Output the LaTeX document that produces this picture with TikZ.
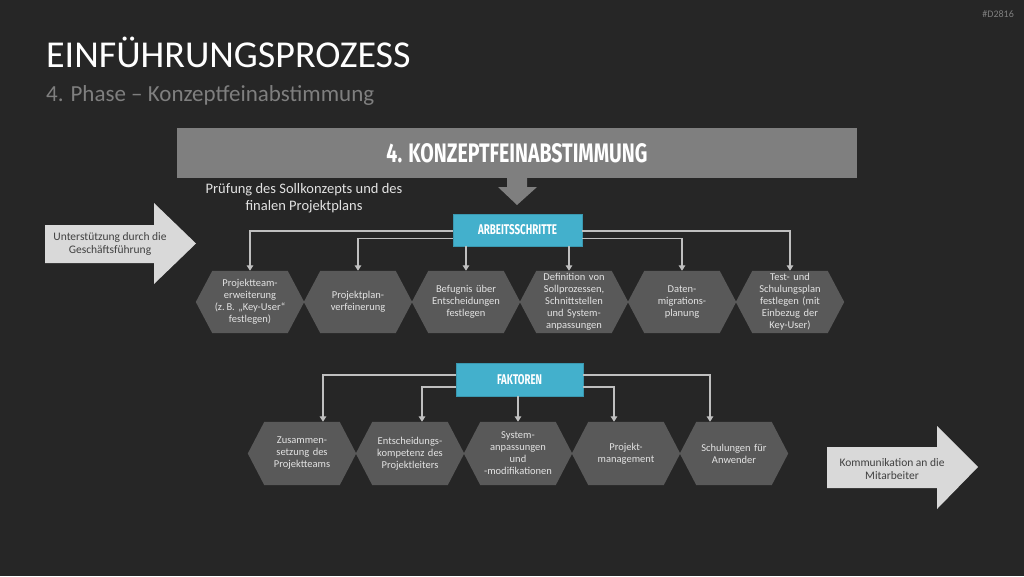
\documentclass[tikz,border=0pt]{standalone}
\usepackage{fontspec}
\setmainfont{Carlito}
\newfontfamily\headfont{Fira Sans}
\usepackage{graphicx}
\usetikzlibrary{arrows.meta,calc}
\pgfdeclarelayer{background}
\pgfsetlayers{background,main}
\definecolor{bgcol}{HTML}{262626}
\definecolor{bannergray}{HTML}{7F7F7F}
\definecolor{hexfill}{HTML}{595959}
\definecolor{hextext}{HTML}{E3E3E3}
\definecolor{teal}{HTML}{43B0CC}
\definecolor{tealdark}{HTML}{3A98B0}
\definecolor{conncol}{HTML}{BFBFBF}
\definecolor{arrowfill}{HTML}{D9D9D9}
\definecolor{arrowtext}{HTML}{404040}
\definecolor{subgray}{HTML}{7F7F7F}
\tikzset{
  hexnode/.style={minimum width=108pt, minimum height=62pt, inner sep=0pt,
    text width=86pt, align=center, font=\fontsize{10.5}{12}\selectfont, text=hextext},
  tealbox/.style={fill=teal, draw=tealdark, line width=0.6pt, inner sep=0pt},
  conn/.style={draw=conncol, line width=1.5pt, -{Triangle[width=6.5pt,length=5.5pt]}},
  bigarrow/.style={fill=arrowfill},
  arrowlabel/.style={align=center, text=arrowtext, font=\fontsize{11.5}{13}\selectfont},
}
\newcommand{\hexpath}[1]{%
  \fill[hexfill] (#1.west) -- ([xshift=16.5pt]#1.north west) -- ([xshift=-16.5pt]#1.north east)
    -- (#1.east) -- ([xshift=-16.5pt]#1.south east) -- ([xshift=16.5pt]#1.south west) -- cycle;}
\begin{document}
\begin{tikzpicture}[x=1pt,y=-1pt]
\begin{pgfonlayer}{background}
\fill[bgcol] (0,0) rectangle (1024,576);
\end{pgfonlayer}
\useasboundingbox (0,0) rectangle (1024,576);

% header
\node[anchor=base west, inner sep=0pt, text=white, font=\fontsize{38}{44}\selectfont] (title) at (46,67) {EINFÜHRUNGSPROZESS};
\node[anchor=base west, inner sep=0pt, text=subgray, font=\fontsize{23}{28}\selectfont] (subtitle) at (46,101) {4. Phase – Konzeptfeinabstimmung};
\node[anchor=east, inner sep=0pt, text=subgray, font=\fontsize{10}{12}\selectfont] (code) at (1014,14) {\#D2816};

% banner
\node[fill=bannergray, minimum width=680pt, minimum height=50pt, inner sep=0pt, text=white] (banner) at (517,153)
  {\resizebox{261pt}{19pt}{\headfont\bfseries 4. KONZEPTFEINABSTIMMUNG}};
\fill[bannergray] (507,177) -- (507,187) -- (498,187) -- (517,205) -- (537,187) -- (527,187) -- (527,177) -- cycle;

\node[align=center, text=hextext, font=\fontsize{14.5}{17}\selectfont] (pruef) at (304,198)
  {Prüfung des Sollkonzepts und des\\finalen Projektplans};

% big side arrows
\fill[bigarrow] (45,225) -- (154,225) -- (154,203) -- (196,243.5) -- (154,284) -- (154,263) -- (45,263) -- cycle;
\node[arrowlabel] (support) at (110,244) {Unterstützung durch die\\Geschäftsführung};
\fill[bigarrow] (827,447) -- (937,447) -- (937,426) -- (978,467) -- (937,509) -- (937,488) -- (827,488) -- cycle;
\node[arrowlabel] (komm) at (892,469) {Kommunikation an die\\Mitarbeiter};

% Arbeitsschritte
\node[tealbox, minimum width=129pt, minimum height=32pt] (arb) at (517.5,230)
  {\color{white}\resizebox{79pt}{10pt}{\headfont\bfseries ARBEITSSCHRITTE}};

\node[hexnode] (u1) at (250,302) {Projektteam-\\erweiterung\\(z.\,B. „Key-User“\\festlegen)};
\node[hexnode] (u2) at (358,302) {Projektplan-\\verfeinerung};
\node[hexnode] (u3) at (466,302) {Befugnis über\\Entscheidungen\\festlegen};
\node[hexnode] (u4) at (574,302) {Definition von\\Sollprozessen,\\Schnittstellen\\und System-\\anpassungen};
\node[hexnode] (u5) at (682,302) {Daten-\\migrations-\\planung};
\node[hexnode] (u6) at (790,302) {Test- und\\Schulungsplan\\festlegen (mit\\Einbezug der\\Key-User)};

% Faktoren
\node[tealbox, minimum width=127pt, minimum height=33pt] (fak) at (519.5,379.5)
  {\color{white}\resizebox{45pt}{10pt}{\headfont\bfseries FAKTOREN}};

\node[hexnode, minimum height=63pt] (l1) at (302,453.5) {Zusammen-\\setzung des\\Projektteams};
\node[hexnode, minimum height=63pt] (l2) at (410,453.5) {Entscheidungs-\\kompetenz des\\Projektleiters};
\node[hexnode, minimum height=63pt] (l3) at (518,453.5) {System-\\anpassungen\\und\\-modifikationen};
\node[hexnode, minimum height=63pt] (l4) at (626,453.5) {Projekt-\\management};
\node[hexnode, minimum height=63pt] (l5) at (734,453.5) {Schulungen für\\Anwender};

\begin{pgfonlayer}{background}
\foreach \n in {u1,u2,u3,u4,u5,u6,l1,l2,l3,l4,l5} {\hexpath{\n}}
\end{pgfonlayer}

% connectors upper
\draw[conn] (arb.west |- 0,231) -| (u1.north);
\draw[conn] (arb.west |- 0,238.5) -| (u2.north);
\draw[conn] (u3.north |- arb.south) -- (u3.north);
\draw[conn] ([xshift=-5pt]u4.north |- arb.south) -- ([xshift=-5pt]u4.north);
\draw[conn] (arb.east |- 0,238.5) -| (u5.north);
\draw[conn] (arb.east |- 0,231) -| (u6.north);

% connectors lower
\draw[conn] (fak.west |- 0,375) -| ([xshift=21pt]l1.north);
\draw[conn] (fak.west |- 0,387) -| ([xshift=12pt]l2.north);
\draw[conn] (l3.north |- fak.south) -- (l3.north);
\draw[conn] (fak.east |- 0,387) -| ([xshift=-12pt]l4.north);
\draw[conn] (fak.east |- 0,375) -| ([xshift=-24pt]l5.north);
\end{tikzpicture}
\end{document}
